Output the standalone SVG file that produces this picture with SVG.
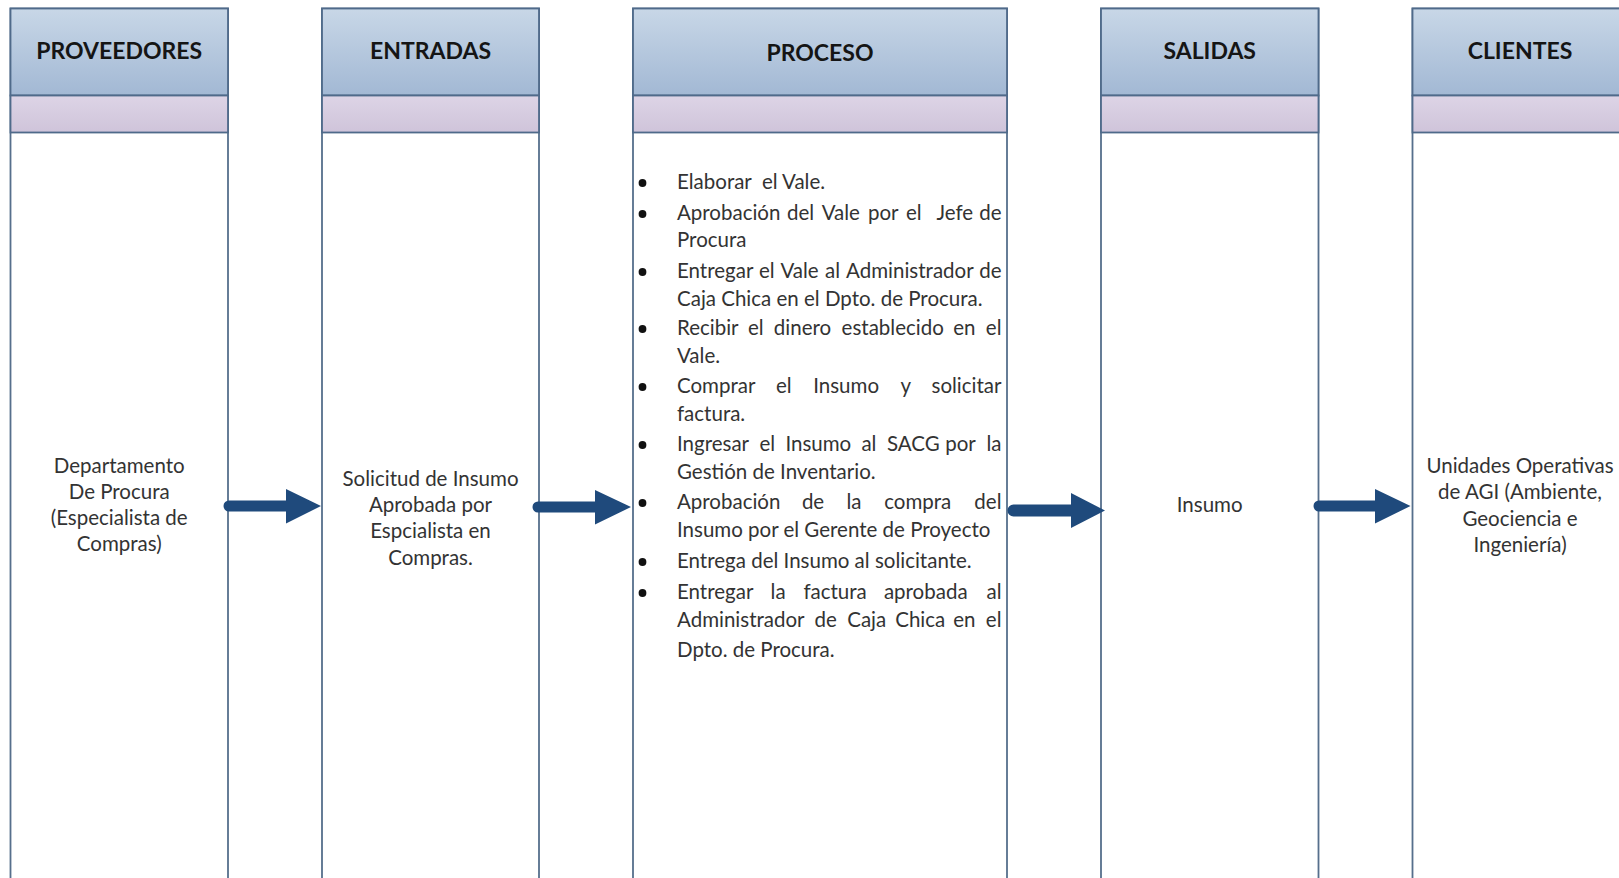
<svg xmlns="http://www.w3.org/2000/svg" width="1619" height="878" viewBox="0 0 1619 878">
  <defs>
    <linearGradient id="hdr" x1="0" y1="0" x2="0" y2="1">
      <stop offset="0" stop-color="#c8d7e7"/>
      <stop offset="1" stop-color="#a2b8d4"/>
    </linearGradient>
    <linearGradient id="band" x1="0" y1="0" x2="0" y2="1">
      <stop offset="0" stop-color="#ddd4e6"/>
      <stop offset="1" stop-color="#cfc4da"/>
    </linearGradient>
    <style>
      .lane { fill: #ffffff; stroke: #566f8c; stroke-width: 1.8; }
      .head { fill: url(#hdr); stroke: #4f6a8a; stroke-width: 1.8; }
      .band { fill: url(#band); stroke: #4f6a8a; stroke-width: 1.8; }
      .title { font-family: Lato, "Liberation Sans", sans-serif; font-weight: 700; font-size: 23px; fill: #151515; text-anchor: middle; }
      .body { font-family: Lato, "Liberation Sans", sans-serif; font-size: 20.5px; fill: #333333; }
      .pre { white-space: pre; }
      .mid { text-anchor: middle; }
      .dot { fill: #111111; }
      .arrow { fill: #1f4a7c; }
    </style>
  </defs>

  <rect width="1619" height="878" fill="#ffffff"/>

  <!-- PROVEEDORES lane -->
  <g id="proveedores">
    <rect class="lane" x="10.5" y="8.5" width="217.5" height="890"/>
    <rect class="head" x="10.5" y="8.5" width="217.5" height="87"/>
    <rect class="band" x="10.5" y="95.5" width="217.5" height="37"/>
    <text class="title" x="119.2" y="59">PROVEEDORES</text>
    <text class="body mid" x="119.2" y="473">Departamento</text>
    <text class="body mid" x="119.2" y="499">De Procura</text>
    <text class="body mid" x="119.2" y="525">(Especialista de</text>
    <text class="body mid" x="119.2" y="551">Compras)</text>
  </g>

  <!-- ENTRADAS lane -->
  <g id="entradas">
    <rect class="lane" x="322" y="8.5" width="217" height="890"/>
    <rect class="head" x="322" y="8.5" width="217" height="87"/>
    <rect class="band" x="322" y="95.5" width="217" height="37"/>
    <text class="title" x="430.5" y="59">ENTRADAS</text>
    <text class="body mid" x="430.5" y="486">Solicitud de Insumo</text>
    <text class="body mid" x="430.5" y="512">Aprobada por</text>
    <text class="body mid" x="430.5" y="538">Espcialista en</text>
    <text class="body mid" x="430.5" y="565">Compras.</text>
  </g>

  <!-- PROCESO lane -->
  <g id="proceso">
    <rect class="lane" x="633" y="8.5" width="374" height="890"/>
    <rect class="head" x="633" y="8.5" width="374" height="87"/>
    <rect class="band" x="633" y="95.5" width="374" height="37"/>
    <text class="title" x="820" y="61">PROCESO</text>

    <g id="bullets">
      <circle class="dot" cx="642.5" cy="183" r="3.9"/>
      <circle class="dot" cx="642.5" cy="214" r="3.9"/>
      <circle class="dot" cx="642.5" cy="272" r="3.9"/>
      <circle class="dot" cx="642.5" cy="329" r="3.9"/>
      <circle class="dot" cx="642.5" cy="387" r="3.9"/>
      <circle class="dot" cx="642.5" cy="445" r="3.9"/>
      <circle class="dot" cx="642.5" cy="503" r="3.9"/>
      <circle class="dot" cx="642.5" cy="562" r="3.9"/>
      <circle class="dot" cx="642.5" cy="593" r="3.9"/>
    </g>

    <text class="body pre" x="677" y="189">Elaborar  el Vale.</text>

    <text class="body" y="220"><tspan x="677">Aprobación</tspan><tspan x="787">del</tspan><tspan x="821.7">Vale</tspan><tspan x="868">por</tspan><tspan x="905.9">el</tspan><tspan x="936.5">Jefe</tspan><tspan x="1001.5" text-anchor="end">de</tspan></text>
    <text class="body" x="677" y="247">Procura</text>

    <text class="body" y="278"><tspan x="677">Entregar</tspan><tspan x="758.9">el</tspan><tspan x="780.4">Vale</tspan><tspan x="825">al</tspan><tspan x="846.1">Administrador</tspan><tspan x="1001.5" text-anchor="end">de</tspan></text>
    <text class="body" x="677" y="306">Caja Chica en el Dpto. de Procura.</text>

    <text class="body" y="335"><tspan x="677">Recibir</tspan><tspan x="748">el</tspan><tspan x="773.8">dinero</tspan><tspan x="841.6">establecido</tspan><tspan x="953.2">en</tspan><tspan x="1001.5" text-anchor="end">el</tspan></text>
    <text class="body" x="677" y="363">Vale.</text>

    <text class="body" y="393"><tspan x="677">Comprar</tspan><tspan x="776">el</tspan><tspan x="813.2">Insumo</tspan><tspan x="900.4">y</tspan><tspan x="1001.5" text-anchor="end">solicitar</tspan></text>
    <text class="body" x="677" y="421">factura.</text>

    <text class="body" y="451"><tspan x="677">Ingresar</tspan><tspan x="759.4">el</tspan><tspan x="785.4">Insumo</tspan><tspan x="861.4">al</tspan><tspan x="887">SACG</tspan><tspan x="945.2">por</tspan><tspan x="1001.5" text-anchor="end">la</tspan></text>
    <text class="body" x="677" y="479">Gestión de Inventario.</text>

    <text class="body" y="509"><tspan x="677">Aprobación</tspan><tspan x="801.9">de</tspan><tspan x="846.5">la</tspan><tspan x="884.2">compra</tspan><tspan x="1001.5" text-anchor="end">del</tspan></text>
    <text class="body" x="677" y="537">Insumo por el Gerente de Proyecto</text>

    <text class="body" x="677" y="568">Entrega del Insumo al solicitante.</text>

    <text class="body" y="599"><tspan x="677">Entregar</tspan><tspan x="770.6">la</tspan><tspan x="803.4">factura</tspan><tspan x="883.9">aprobada</tspan><tspan x="1001.5" text-anchor="end">al</tspan></text>
    <text class="body" y="627"><tspan x="677">Administrador</tspan><tspan x="814.6">de</tspan><tspan x="847.2">Caja</tspan><tspan x="895.2">Chica</tspan><tspan x="953.2">en</tspan><tspan x="1001.5" text-anchor="end">el</tspan></text>
    <text class="body" x="677" y="657">Dpto. de Procura.</text>
  </g>

  <!-- SALIDAS lane -->
  <g id="salidas">
    <rect class="lane" x="1101" y="8.5" width="217.5" height="890"/>
    <rect class="head" x="1101" y="8.5" width="217.5" height="87"/>
    <rect class="band" x="1101" y="95.5" width="217.5" height="37"/>
    <text class="title" x="1209.7" y="59">SALIDAS</text>
    <text class="body mid" x="1209.7" y="512">Insumo</text>
  </g>

  <!-- CLIENTES lane (runs past the right edge) -->
  <g id="clientes">
    <rect class="lane" x="1412.5" y="8.5" width="230" height="890"/>
    <rect class="head" x="1412.5" y="8.5" width="230" height="87"/>
    <rect class="band" x="1412.5" y="95.5" width="230" height="37"/>
    <text class="title" x="1520" y="59">CLIENTES</text>
    <text class="body mid" x="1520" y="473">Unidades Operativas</text>
    <text class="body mid" x="1520" y="499">de AGI (Ambiente,</text>
    <text class="body mid" x="1520" y="525.5">Geociencia e</text>
    <text class="body mid" x="1520" y="551.5">Ingeniería)</text>
  </g>

  <!-- block arrows between lanes -->
  <g id="connectors">
    <path class="arrow" d="M229,500.5 H286 V489 L321,506 L286,523.5 V511.5 H229 A5.5,5.5 0 0 1 229,500.5 Z"/>
    <path class="arrow" d="M538,501.5 H595 V490 L631,507 L595,524.5 V512.5 H538 A5.5,5.5 0 0 1 538,501.5 Z"/>
    <path class="arrow" d="M1013.5,504.5 H1071 V493 L1105,510.5 L1071,528 V516.5 H1013.5 A6,6 0 0 1 1013.5,504.5 Z"/>
    <path class="arrow" d="M1319,500.5 H1375 V489 L1410.5,506 L1375,523.5 V511.5 H1319 A5.5,5.5 0 0 1 1319,500.5 Z"/>
  </g>
</svg>
